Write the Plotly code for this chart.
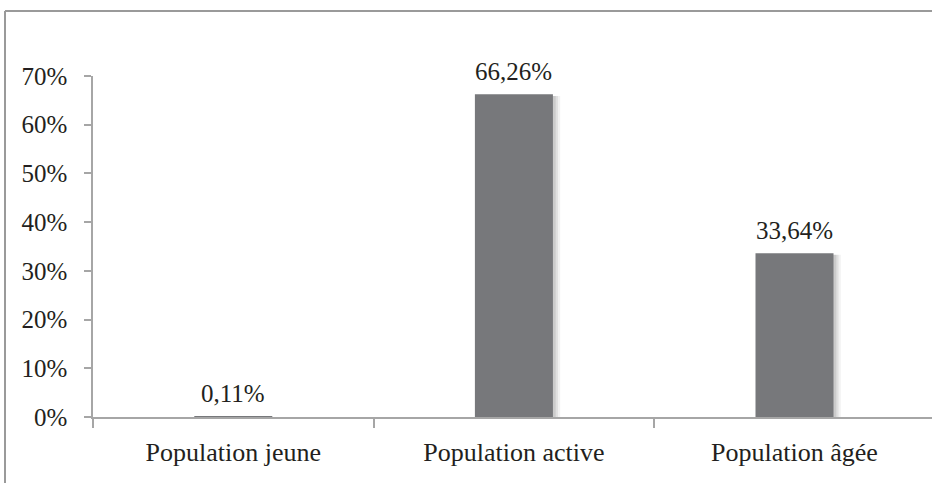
import plotly.graph_objects as go

categories = ["Population jeune", "Population active", "Population âgée"]
values = [0.11, 66.26, 33.64]
y_ticks = [0, 10, 20, 30, 40, 50, 60, 70]
y_tick_labels = [f"{v}%" for v in y_ticks]
value_labels = [f"{v:.2f}".replace(".", ",") + "%" for v in values]

W, H = 932, 483
L, R, T, B = 93, 0, 76, 66
pw = W - L - R
ph = H - T - B

FONT = "Liberation Serif, Times New Roman, serif"
FS = 25
TXT = "#231f20"
AX = "#a6a6a6"
BAR = "#77787b"
bw = 0.278

fig = go.Figure()
# soft shadow layers (same data, shifted right)
for dx, op in [(0.026, 0.05), (0.018, 0.07), (0.01, 0.09)]:
    fig.add_trace(go.Bar(
        x=categories, y=[max(v - 0.35, 0) for v in values],
        width=bw, offset=-bw / 2 + dx,
        marker=dict(color=f"rgba(0,0,0,{op})", line=dict(width=0)),
        hoverinfo="skip", showlegend=False))
fig.add_trace(go.Bar(
    x=categories, y=values, width=bw, offset=-bw / 2,
    marker=dict(color=BAR, line=dict(width=0)), showlegend=False))

for c, v, t in zip(categories, values, value_labels):
    fig.add_annotation(x=c, y=v, text=t, showarrow=False, yanchor="bottom",
                       yshift=7, font=dict(family=FONT, size=FS, color=TXT))

# outer frame (left and top edges)
fx = (5 - L) / pw
fy = 1 + (T - 11) / ph
fig.add_shape(type="line", xref="paper", yref="paper", x0=fx, x1=fx,
              y0=-B / ph, y1=fy, line=dict(color="#9a9a9a", width=2))
fig.add_shape(type="line", xref="paper", yref="paper", x0=fx, x1=1 + 10 / pw,
              y0=fy, y1=fy, line=dict(color="#9a9a9a", width=2))

fig.update_layout(
    width=W, height=H, barmode="overlay",
    margin=dict(l=L, r=R, t=T, b=B, pad=0),
    paper_bgcolor="white", plot_bgcolor="white",
    font=dict(family=FONT, size=FS, color=TXT),
    xaxis=dict(range=[-0.5, 2.49], showline=True, linecolor=AX, linewidth=1.5,
               ticks="outside", tickson="boundaries", ticklen=9, tickcolor=AX,
               tickwidth=1.5, showgrid=False, zeroline=False,
               tickfont=dict(family=FONT, size=26, color=TXT),
               ticklabelstandoff=11),
    yaxis=dict(range=[0, 70], tickvals=y_ticks, ticktext=y_tick_labels,
               showline=True, linecolor=AX, linewidth=1.5, ticks="outside",
               ticklen=7, tickcolor=AX, tickwidth=1.5, showgrid=False,
               zeroline=False, tickfont=dict(family=FONT, size=FS, color=TXT),
               ticklabelstandoff=12),
)

fig.write_html("out.html", config={"displayModeBar": False},
               post_script="document.body.style.margin='0';")
